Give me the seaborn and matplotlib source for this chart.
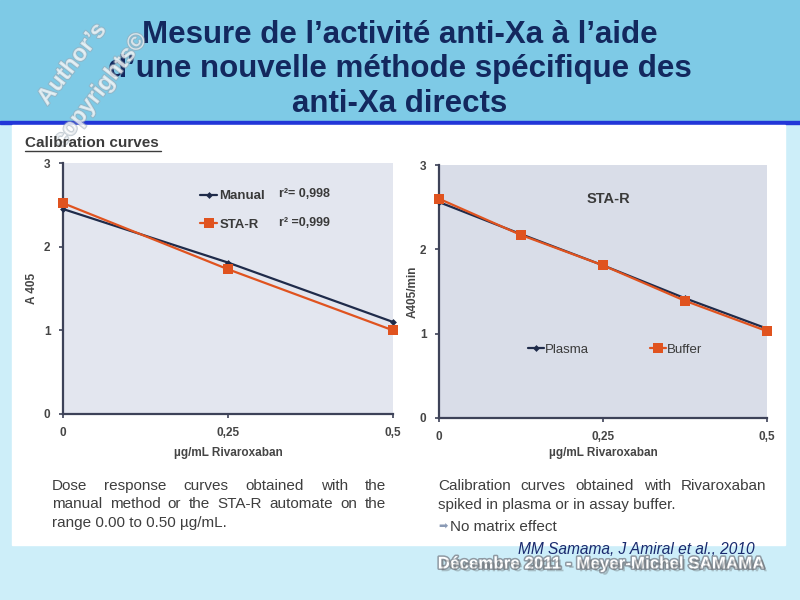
import numpy as np
import pandas as pd
import seaborn as sns
import matplotlib.pyplot as plt
from matplotlib.patches import Rectangle
from matplotlib.lines import Line2D
import matplotlib.patheffects as pe

# ---- data ----
conc_left = [0, 0.25, 0.5]
manual = [2.45, 1.81, 1.10]
star = [2.52, 1.73, 1.00]

conc_right = [0, 0.125, 0.25, 0.375, 0.5]
plasma = [2.56, 2.18, 1.81, 1.42, 1.06]
buffer_ = [2.60, 2.17, 1.81, 1.39, 1.03]

yticks = [0, 1, 2, 3]
xticks = [0, 0.25, 0.5]
xticklabels = ['0', '0,25', '0,5']

title_lines = ["Mesure de l\u2019activité anti-Xa à l\u2019aide",
               "d\u2019une nouvelle méthode spécifique des",
               "anti-Xa directs"]

sns.set_theme(style='white')
plt.rcParams['font.family'] = ['Liberation Sans', 'DejaVu Sans']

W, H = 800, 600
fig = plt.figure(figsize=(8, 6), dpi=100)
fig.patch.set_facecolor('#cdeef9')

def fx(x):
    return x / W

def fy(y):
    return 1 - y / H

# slide background pieces (kept under the axes)
fig.patches.append(Rectangle((0, fy(121)), 1, 121 / H, transform=fig.transFigure,
                             color='#7ecae6', zorder=-5))
fig.patches.append(Rectangle((0, fy(124)), 1, 3 / H, transform=fig.transFigure,
                             color='#2236d8', zorder=-5))
fig.patches.append(Rectangle((fx(12), fy(545)), fx(773), (545 - 125) / H,
                             transform=fig.transFigure, color='white', zorder=-5))

navy = '#13285e'
for i, t in enumerate(title_lines):
    fig.text(0.5, fy(35 + i * 34.5), t, ha='center', va='center', fontsize=22.5,
             fontweight='bold', color=navy)

# watermark
wm = dict(color='white', alpha=0.55, fontsize=17, fontweight='bold', rotation=52,
          ha='center', va='center',
          path_effects=[pe.withStroke(linewidth=1.5, foreground='#9aa9b5')])
fig.text(fx(72), fy(64), "Author\u2019s", **wm)
fig.text(fx(100), fy(90), "copyrights\u00a9", **wm)

# "Calibration curves" heading
fig.text(fx(25), fy(143), "Calibration curves", fontsize=11, fontweight='bold',
         color='#3c3c3c', ha='left', va='center')
fig.add_artist(Line2D([fx(25), fx(161)], [fy(151), fy(151)], color='#3c3c3c', lw=1))

dark = '#1f2b4a'
orange = '#e0531f'
tick_col = '#454545'


def style_axes(ax, bg, ylabel, ypad, xpad):
    ax.set_facecolor(bg)
    ax.set_xlim(0, 0.5)
    ax.set_ylim(0, 3)
    ax.set_xticks(xticks)
    ax.set_xticklabels(xticklabels)
    ax.set_yticks(yticks)
    for s in ['top', 'right']:
        ax.spines[s].set_visible(False)
    for s in ['left', 'bottom']:
        ax.spines[s].set_color('#3d4258')
        ax.spines[s].set_linewidth(1.6)
    ax.tick_params(axis='both', which='both', direction='out', length=3, width=1.2,
                   color='#3d4258', labelsize=8.5, labelcolor=tick_col, pad=6,
                   left=True, bottom=True)
    for lab in ax.get_xticklabels() + ax.get_yticklabels():
        lab.set_fontweight('bold')
    ax.set_xlabel("\u00b5g/mL Rivaroxaban", fontsize=8.5, fontweight='bold',
                  color=tick_col, labelpad=xpad)
    ax.set_ylabel(ylabel, fontsize=8.5, fontweight='bold', color=tick_col,
                  labelpad=ypad)


# ---- left chart ----
ax1 = fig.add_axes([fx(63), fy(414), fx(330), 251 / H])
df_l = pd.DataFrame({'conc': conc_left * 2, 'abs': manual + star,
                     'series': ['Manual'] * 3 + ['STA-R'] * 3})
sns.lineplot(data=df_l[df_l.series == 'Manual'], x='conc', y='abs', ax=ax1,
             color=dark, marker='D', markersize=3.5, markeredgewidth=0, lw=1.6,
             label='Manual', clip_on=False, zorder=3)
sns.lineplot(data=df_l[df_l.series == 'STA-R'], x='conc', y='abs', ax=ax1,
             color=orange, marker='s', markersize=6.5, markeredgewidth=0, lw=1.6,
             label='STA-R', clip_on=False, zorder=4)
style_axes(ax1, '#e3e6ef', 'A 405', 4, 6)
ax1.legend(loc='upper left', bbox_to_anchor=(0.38, 0.94), frameon=False,
           handlelength=1.3, handletextpad=0.15, labelspacing=1.25,
           prop={'weight': 'bold', 'size': 9.5}, labelcolor='#3a3a3a')
ax1.text(0.655, 0.875, "r\u00b2= 0,998", transform=ax1.transAxes, fontsize=9,
         fontweight='bold', color='#3a3a3a', va='center')
ax1.text(0.655, 0.76, "r\u00b2 =0,999", transform=ax1.transAxes, fontsize=9,
         fontweight='bold', color='#3a3a3a', va='center')

# ---- right chart ----
ax2 = fig.add_axes([fx(439), fy(418), fx(328), 253 / H])
df_r = pd.DataFrame({'conc': conc_right * 2, 'abs': plasma + buffer_,
                     'series': ['Plasma'] * 5 + ['Buffer'] * 5})
sns.lineplot(data=df_r[df_r.series == 'Plasma'], x='conc', y='abs', ax=ax2,
             color=dark, marker='D', markersize=3.5, markeredgewidth=0, lw=1.6,
             label='Plasma', clip_on=False, zorder=3)
sns.lineplot(data=df_r[df_r.series == 'Buffer'], x='conc', y='abs', ax=ax2,
             color=orange, marker='s', markersize=6.5, markeredgewidth=0, lw=1.6,
             label='Buffer', clip_on=False, zorder=4)
style_axes(ax2, '#d9dde8', 'A405/min', 1, 3)
ax2.legend(loc='center left', bbox_to_anchor=(0.235, 0.27), frameon=False, ncol=2,
           handlelength=1.2, handletextpad=0.1, columnspacing=4.6,
           prop={'size': 9.5}, labelcolor='#3a3a3a')
ax2.text(0.515, 0.865, "STA-R", transform=ax2.transAxes, fontsize=10.5,
         fontweight='bold', color='#3a3a3a', ha='center', va='center')

# ---- captions (justified lines) ----
renderer = fig.canvas.get_renderer()
cap_kw = dict(fontsize=11, color='#3e3e3e', va='center')


def put_line(text, x0, x1, y, justify):
    if not justify:
        fig.text(fx(x0), fy(y), text, ha='left', **cap_kw)
        return
    words = text.split()
    objs = [fig.text(0, 0, w, ha='left', **cap_kw) for w in words]
    widths = [o.get_window_extent(renderer).width for o in objs]
    gap = (x1 - x0 - sum(widths)) / (len(words) - 1)
    x = x0
    for o, wd in zip(objs, widths):
        o.set_position((fx(x), fy(y)))
        x += wd + gap


left_caption = ["Dose response curves obtained with the",
                "manual method or the STA-R automate on the",
                "range 0.00 to 0.50 \u00b5g/mL."]
right_caption = ["Calibration curves obtained with Rivaroxaban",
                 "spiked in plasma or in assay buffer."]
for i, t in enumerate(left_caption):
    put_line(t, 52, 386, 486 + i * 18.5, justify=(i < len(left_caption) - 1))
for i, t in enumerate(right_caption):
    put_line(t, 438, 766, 486 + i * 18.5, justify=(i < len(right_caption) - 1))
fig.text(fx(438), fy(527), "\u27a1", ha='left', va='center', fontsize=8,
         color='#8a9ab5', family=['DejaVu Sans'])
fig.text(fx(450), fy(527), "No matrix effect", ha='left', **cap_kw)

# ---- citation and footer ----
fig.text(fx(755), fy(550), "MM Samama, J Amiral et al., 2010", ha='right', va='center',
         fontsize=11.2, style='italic', color='#1a2a6e')
fig.text(fx(763), fy(564), "Décembre 2011 - Meyer-Michel SAMAMA", ha='right',
         va='center', fontsize=12.2, fontweight='bold', color='white',
         path_effects=[pe.withStroke(linewidth=2.2, foreground='#8f9aa3'),
                       pe.SimplePatchShadow(offset=(2, -2))])

fig.savefig('out.png', dpi=100, facecolor=fig.get_facecolor())
